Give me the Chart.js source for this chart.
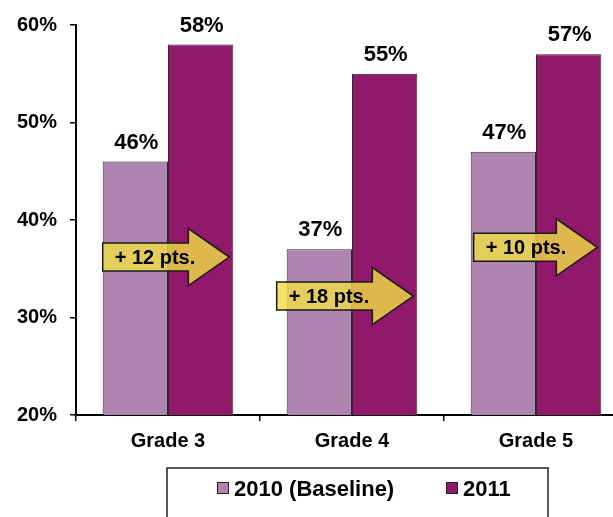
<!DOCTYPE html>
<html>
<head>
<meta charset="utf-8">
<script src="https://cdn.jsdelivr.net/npm/chart.js@4/dist/chart.umd.min.js"></script>
<style>
  html, body { margin: 0; padding: 0; background: #fff; overflow: hidden; }
  #wrap { width: 613px; height: 517px; overflow: hidden; }
  canvas { display: block; }
</style>
</head>
<body>
<div id="wrap"><canvas id="c" width="640" height="517"></canvas></div>
<script>
const categories = ['Grade 3', 'Grade 4', 'Grade 5'];
const seriesLabels = ['2010 (Baseline)', '2011'];
const values2010 = [46, 37, 47];
const values2011 = [58, 55, 57];
const yTickValues = [20, 30, 40, 50, 60];
const gainLabels = values2011.map((v, i) => '+ ' + (v - values2010[i]) + ' pts.');

const FONT = "'Liberation Sans', Arial, sans-serif";

const arrowPlugin = {
  id: 'gainArrows',
  afterDatasetsDraw(chart, args, opts) {
    const ctx = chart.ctx;
    const y = chart.scales.y;
    const m0 = chart.getDatasetMeta(0).data;
    const m1 = chart.getDatasetMeta(1).data;
    categories.forEach((c, i) => {
      const b0 = m0[i], b1 = m1[i];
      const x0 = b0.x - b0.width / 2 + opts.startShift[i];
      const x1 = b1.x + b1.width / 2 - 4;
      const yc = y.getPixelForValue(opts.levels[i]);
      const bh = 14, hh = 28.5, hl = 41;
      ctx.save();
      ctx.beginPath();
      ctx.moveTo(x0, yc - bh);
      ctx.lineTo(x1 - hl, yc - bh);
      ctx.lineTo(x1 - hl, yc - hh);
      ctx.lineTo(x1, yc);
      ctx.lineTo(x1 - hl, yc + hh);
      ctx.lineTo(x1 - hl, yc + bh);
      ctx.lineTo(x0, yc + bh);
      ctx.closePath();
      ctx.fillStyle = 'rgba(240, 222, 70, 0.81)';
      ctx.fill();
      ctx.lineWidth = 1.5;
      ctx.strokeStyle = '#1a1a1a';
      ctx.stroke();
      ctx.fillStyle = '#000';
      ctx.font = 'bold 20px ' + FONT;
      ctx.textAlign = 'left';
      ctx.textBaseline = 'middle';
      ctx.fillText(gainLabels[i], x0 + 12, yc + 1);
      ctx.restore();
    });
  }
};

const valueLabelPlugin = {
  id: 'valueLabels',
  afterDatasetsDraw(chart) {
    const ctx = chart.ctx;
    ctx.save();
    ctx.font = 'bold 22px ' + FONT;
    ctx.fillStyle = '#000';
    ctx.textAlign = 'center';
    ctx.textBaseline = 'alphabetic';
    chart.data.datasets.forEach((ds, d) => {
      chart.getDatasetMeta(d).data.forEach((bar, i) => {
        ctx.fillText(ds.data[i] + '%', bar.x + 1, bar.y - 13);
      });
    });
    ctx.restore();
  }
};

const legendBoxPlugin = {
  id: 'legendBox',
  afterDraw(chart, args, opts) {
    const ctx = chart.ctx;
    ctx.save();
    ctx.lineWidth = 1.5;
    ctx.strokeStyle = '#222';
    ctx.strokeRect(opts.left, opts.top, opts.width, opts.height);
    ctx.font = 'bold 22px ' + FONT;
    ctx.textBaseline = 'alphabetic';
    ctx.textAlign = 'left';
    chart.data.datasets.forEach((ds, d) => {
      const x = opts.itemX[d];
      ctx.fillStyle = ds.backgroundColor;
      ctx.fillRect(x, opts.boxY, 12, 12);
      ctx.lineWidth = 1;
      ctx.strokeStyle = '#222';
      ctx.strokeRect(x + 0.5, opts.boxY + 0.5, 11, 11);
      ctx.fillStyle = '#000';
      ctx.fillText(ds.label, x + 17, opts.textY);
    });
    ctx.restore();
  }
};

new Chart(document.getElementById('c'), {
  type: 'bar',
  data: {
    labels: categories,
    datasets: [
      { label: seriesLabels[0], data: values2010, backgroundColor: '#b084b0', borderColor: '#2a2a2a', borderWidth: 1 },
      { label: seriesLabels[1], data: values2011, backgroundColor: '#91196c', borderColor: '#2a2a2a', borderWidth: 1 }
    ]
  },
  options: {
    responsive: false,
    animation: false,
    devicePixelRatio: 1,
    layout: { padding: { top: 24, right: 12, bottom: 0, left: 0 } },
    datasets: { bar: { categoryPercentage: 0.71, barPercentage: 1 } },
    plugins: {
      legend: { display: false },
      tooltip: { enabled: false },
      gainArrows: { levels: [36.2, 32.2, 37.2], startShift: [0, -10, 3] },
      legendBox: { left: 167, top: 468, width: 381, height: 80, itemX: [217, 446], boxY: 482, textY: 496 }
    },
    scales: {
      x: {
        grid: { display: true, drawOnChartArea: false, drawTicks: true, tickLength: 6, color: '#000', lineWidth: 1.5, offset: true },
        border: { display: true, color: '#000', width: 2 },
        ticks: { color: '#000', font: { family: FONT, size: 20, weight: 'bold' }, padding: 8, maxRotation: 0 },
        afterFit(s) { s.height = 102; }
      },
      y: {
        min: 20, max: 60,
        grid: { display: true, drawOnChartArea: false, drawTicks: true, tickLength: 6, color: '#000', lineWidth: 1.5 },
        border: { display: true, color: '#000', width: 2 },
        afterBuildTicks(s) { s.ticks = yTickValues.map(v => ({ value: v })); },
        ticks: { color: '#000', font: { family: FONT, size: 20, weight: 'bold' }, padding: 13, callback: v => v + '%' },
        afterFit(s) { s.width = 76; }
      }
    }
  },
  plugins: [arrowPlugin, valueLabelPlugin, legendBoxPlugin]
});
</script>
</body>
</html>
